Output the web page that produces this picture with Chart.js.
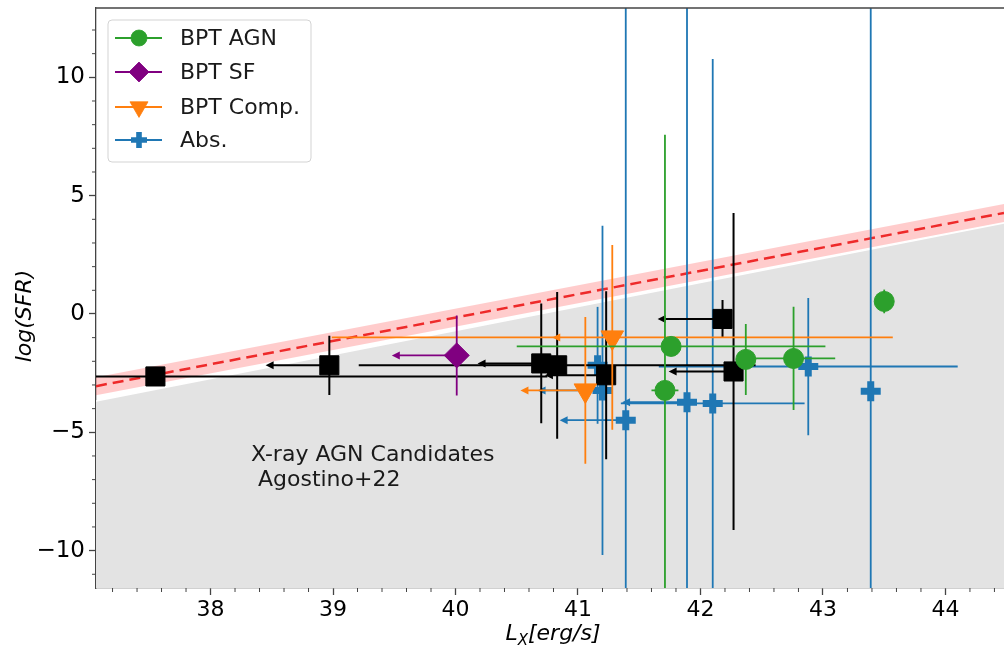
<!DOCTYPE html>
<html>
<head>
<meta charset="utf-8">
<script src="https://cdn.jsdelivr.net/npm/chart.js@4.4.0/dist/chart.umd.min.js"></script>
<style>
  html, body { margin: 0; padding: 0; background: #fff; }
  #wrap { width: 1004px; height: 652px; }
</style>
</head>
<body>
<div id="wrap"><canvas id="sfr-chart" width="1004" height="652"></canvas></div>
<script>
// axis limits and tick labels
var xMin = 37.065, xMax = 44.478;
var yMin = -11.58, yMax = 12.93;
var xTicks = [38, 39, 40, 41, 42, 43, 44];
var yTicks = [-10, -5, 0, 5, 10];

// BPT AGN (green circles)
var agnX    = [41.76, 41.71, 42.37, 42.76, 43.50];
var agnY    = [-1.37, -3.23, -1.92, -1.88, 0.53];
var agnXerr = [1.26, 0.11, 0.08, 0.34, 0];
var agnYerr = [0.3, 10.8, 1.5, 2.18, 0.5];

// BPT SF (purple diamond), arrow = upper limit on Lx
var sfX    = [40.01];
var sfY    = [-1.75];
var sfYerr = [1.69];
var sfXlim = [39.48];

// BPT Comp. (orange triangles)
var compX    = [41.28, 41.06];
var compY    = [-0.99, -3.23];
var compXerr = [2.29, 0];
var compYerr = [3.9, 3.1];
var compXlim = [40.79, 40.53];

// Abs. (blue plus)
var absX    = [41.16, 41.20, 41.39, 41.89, 42.10, 42.88, 43.39];
var absY    = [-2.17, -3.23, -4.49, -3.73, -3.78, -2.22, -3.27];
var absXerr = [0, 0, 0, 0, 0.75, 1.22, 0];
var absYerr = [2.47, 6.96, 20, 20, 14.56, 2.9, 20];
var absXlim = [null, 40.67, 40.85, 41.36, null, null, null];

// X-ray AGN candidates, Agostino+22 (black squares)
var xrayX    = [37.55, 38.97, 40.70, 40.83, 41.23, 42.18, 42.27];
var xrayY    = [-2.64, -2.17, -2.09, -2.17, -2.59, -0.21, -2.43];
var xrayXerr = [3.2, 0, 0, 1.62, 0, 0, 0];
var xrayYerr = [0, 1.25, 2.53, 3.1, 3.55, 0.8, 6.7];
var xrayXlim = [null, 38.45, 40.18, null, 40.73, 41.65, 41.74];

// relations across the plot (end points at xMin / xMax)
var relX      = [xMin, xMax];
var sfmsY     = [-3.05, 4.27];
var sfmsLow   = [-3.43, 3.89];
var sfmsHigh  = [-2.67, 4.65];
var agnZoneY  = [-3.68, 3.85];

var legendNames = ['BPT AGN', 'BPT SF', 'BPT Comp.', 'Abs.'];

var FONT = "'DejaVu Sans', 'Liberation Sans', sans-serif";

function points(xs, ys, xerr, yerr, xlim) {
    var out = [];
    for (var i = 0; i < xs.length; i++) {
        out.push({
            x: xs[i], y: ys[i],
            xerr: xerr ? xerr[i] : 0,
            yerr: yerr ? yerr[i] : 0,
            xlim: xlim ? xlim[i] : null
        });
    }
    return out;
}
function line(xs, ys) {
    return xs.map(function (v, i) { return { x: v, y: ys[i] }; });
}
function noPadding(s) {
    s.paddingTop = 0; s.paddingBottom = 0; s.paddingLeft = 0; s.paddingRight = 0;
}

var errorBars = {
    id: 'errorBars',
    beforeDatasetDraw: function (chart, args) {
        var ds = chart.data.datasets[args.index];
        if (!ds.errorColor) return;
        var xs = chart.scales.x, ys = chart.scales.y, ctx = chart.ctx, a = chart.chartArea;
        ctx.save();
        ctx.beginPath();
        ctx.rect(a.left, a.top, a.right - a.left, a.bottom - a.top);
        ctx.clip();
        ctx.strokeStyle = ds.errorColor;
        ctx.fillStyle = ds.errorColor;
        ctx.lineWidth = ds.errorWidth;
        ds.data.forEach(function (p) {
            var px = xs.getPixelForValue(p.x), py = ys.getPixelForValue(p.y);
            ctx.beginPath();
            if (p.yerr) {
                ctx.moveTo(px, ys.getPixelForValue(p.y + p.yerr));
                ctx.lineTo(px, ys.getPixelForValue(p.y - p.yerr));
            }
            if (p.xerr) {
                ctx.moveTo(xs.getPixelForValue(p.x - p.xerr), py);
                ctx.lineTo(xs.getPixelForValue(p.x + p.xerr), py);
            }
            if (p.xlim != null) {
                var ax = xs.getPixelForValue(p.xlim);
                ctx.moveTo(ax + 4, py);
                ctx.lineTo(px, py);
            }
            ctx.stroke();
            if (p.xlim != null) {
                var hx = xs.getPixelForValue(p.xlim);
                ctx.beginPath();
                ctx.moveTo(hx, py);
                ctx.lineTo(hx + 8, py - 4);
                ctx.lineTo(hx + 8, py + 4);
                ctx.closePath();
                ctx.fill();
            }
        });
        ctx.restore();
    }
};

var decorations = {
    id: 'decorations',
    afterDatasetsDraw: function (chart) {
        var ctx = chart.ctx, xs = chart.scales.x, ys = chart.scales.y, a = chart.chartArea;
        ctx.save();
        // top spine
        ctx.strokeStyle = '#444';
        ctx.lineWidth = 1.3;
        ctx.beginPath();
        ctx.moveTo(a.left, a.top);
        ctx.lineTo(a.right, a.top);
        ctx.stroke();
        // minor ticks
        ctx.lineWidth = 1;
        ctx.beginPath();
        for (var v = 37.2; v < xMax; v += 0.2) {
            var r = Math.round(v * 5) / 5;
            if (Math.abs(r - Math.round(r)) < 1e-6) continue;
            var px = xs.getPixelForValue(r);
            ctx.moveTo(px, a.bottom);
            ctx.lineTo(px, a.bottom + 4);
        }
        for (var w = -11; w <= 12; w++) {
            if (w % 5 === 0) continue;
            var py = ys.getPixelForValue(w);
            ctx.moveTo(a.left, py);
            ctx.lineTo(a.left - 4, py);
        }
        ctx.stroke();

        // annotation
        ctx.fillStyle = '#1a1a1a';
        ctx.font = '22px ' + FONT;
        ctx.textBaseline = 'alphabetic';
        ctx.textAlign = 'left';
        ctx.fillText('X-ray AGN Candidates', xs.getPixelForValue(38.33), ys.getPixelForValue(-6.22));
        ctx.fillText(' Agostino+22', xs.getPixelForValue(38.33), ys.getPixelForValue(-7.28));

        // axis titles
        ctx.fillStyle = '#000';
        ctx.font = 'italic 22px ' + FONT;
        ctx.save();
        ctx.translate(25, 316);
        ctx.rotate(-Math.PI / 2);
        ctx.textAlign = 'center';
        ctx.textBaseline = 'middle';
        ctx.fillText('log(SFR)', 0, 0);
        ctx.restore();

        var big = 'italic 22px ' + FONT, small = 'italic 15px ' + FONT;
        ctx.font = big;
        var wL = ctx.measureText('L').width, wR = ctx.measureText('[erg/s]').width;
        ctx.font = small;
        var wX = ctx.measureText('X').width;
        var x0 = 553 - (wL + wX + wR) / 2, base = 640;
        ctx.textAlign = 'left';
        ctx.textBaseline = 'alphabetic';
        ctx.font = big;
        ctx.fillText('L', x0, base);
        ctx.font = small;
        ctx.fillText('X', x0 + wL, base + 5);
        ctx.font = big;
        ctx.fillText('[erg/s]', x0 + wL + wX, base);
        ctx.restore();
    },
    afterDraw: function (chart) {
        var ctx = chart.ctx;
        ctx.save();
        // legend frame
        var bx = 108, by = 20, bw = 203, bh = 142, rr = 4;
        ctx.fillStyle = 'rgba(255,255,255,0.85)';
        ctx.strokeStyle = '#d3d3d3';
        ctx.lineWidth = 1;
        ctx.beginPath();
        ctx.moveTo(bx + rr, by);
        ctx.lineTo(bx + bw - rr, by);
        ctx.quadraticCurveTo(bx + bw, by, bx + bw, by + rr);
        ctx.lineTo(bx + bw, by + bh - rr);
        ctx.quadraticCurveTo(bx + bw, by + bh, bx + bw - rr, by + bh);
        ctx.lineTo(bx + rr, by + bh);
        ctx.quadraticCurveTo(bx, by + bh, bx, by + bh - rr);
        ctx.lineTo(bx, by + rr);
        ctx.quadraticCurveTo(bx, by, bx + rr, by);
        ctx.closePath();
        ctx.fill();
        ctx.stroke();

        var rows = [38, 72, 107, 140];
        ctx.font = '22px ' + FONT;
        ctx.textBaseline = 'middle';
        ctx.textAlign = 'left';
        chart.data.datasets.forEach(function (ds) {
            if (ds.legendRow == null) return;
            var y = rows[ds.legendRow];
            ctx.strokeStyle = ds.errorColor;
            ctx.lineWidth = 1.8;
            ctx.beginPath();
            ctx.moveTo(115, y);
            ctx.lineTo(162, y);
            ctx.stroke();
            ctx.fillStyle = ds.pointBackgroundColor;
            ctx.strokeStyle = ds.pointBorderColor;
            ctx.lineWidth = ds.pointBorderWidth * 0.8;
            Chart.helpers.drawPoint(ctx, {
                pointStyle: ds.pointStyle,
                rotation: ds.pointRotation || 0,
                radius: ds.pointRadius * 0.8,
                borderWidth: ds.pointBorderWidth * 0.8
            }, 139, y);
            ctx.fillStyle = '#1a1a1a';
            ctx.fillText(ds.label, 180, y + 1);
        });
        ctx.restore();
    }
};

var ctx = document.getElementById('sfr-chart').getContext('2d');

var data = {
    datasets: [
        {
            label: legendNames[0], legendRow: 0,
            data: points(agnX, agnY, agnXerr, agnYerr, null),
            errorColor: '#2ca02c', errorWidth: 1.8,
            pointStyle: 'circle', pointRadius: 10,
            pointBackgroundColor: '#2ca02c', pointBorderColor: '#2ca02c', pointBorderWidth: 1
        },
        {
            label: legendNames[1], legendRow: 1,
            data: points(sfX, sfY, null, sfYerr, sfXlim),
            errorColor: '#800080', errorWidth: 1.8,
            pointStyle: 'rectRot', pointRadius: 12.5,
            pointBackgroundColor: '#800080', pointBorderColor: '#800080', pointBorderWidth: 1
        },
        {
            label: legendNames[2], legendRow: 2,
            data: points(compX, compY, compXerr, compYerr, compXlim),
            errorColor: '#ff7f0e', errorWidth: 1.8,
            pointStyle: 'triangle', pointRotation: 180, pointRadius: 13,
            pointBackgroundColor: '#ff7f0e', pointBorderColor: '#ff7f0e', pointBorderWidth: 1
        },
        {
            label: 'X-ray AGN Candidates',
            data: points(xrayX, xrayY, xrayXerr, xrayYerr, xrayXlim),
            errorColor: '#000', errorWidth: 2,
            pointStyle: 'rect', pointRadius: 13.5,
            pointBackgroundColor: '#000', pointBorderColor: '#000', pointBorderWidth: 1
        },
        {
            label: legendNames[3], legendRow: 3,
            data: points(absX, absY, absXerr, absYerr, absXlim),
            errorColor: '#1f77b4', errorWidth: 1.8,
            pointStyle: 'cross', pointRadius: 10,
            pointBackgroundColor: '#1f77b4', pointBorderColor: '#1f77b4', pointBorderWidth: 7
        },
        {
            label: 'SFMS',
            data: line(relX, sfmsY),
            showLine: true, pointRadius: 0,
            borderColor: '#ee2a2a', borderWidth: 2.5, borderDash: [11, 6],
            fill: false
        },
        {
            label: 'SFMS high',
            data: line(relX, sfmsHigh),
            showLine: true, pointRadius: 0, borderWidth: 0,
            borderColor: 'rgba(0,0,0,0)', fill: false
        },
        {
            label: 'SFMS low',
            data: line(relX, sfmsLow),
            showLine: true, pointRadius: 0, borderWidth: 0,
            borderColor: 'rgba(0,0,0,0)',
            fill: 6, backgroundColor: 'rgba(255,0,0,0.2)'
        },
        {
            label: 'AGN zone',
            data: line(relX, agnZoneY),
            showLine: true, pointRadius: 0, borderWidth: 1.5,
            borderColor: '#ffffff',
            fill: 'start', backgroundColor: '#e3e3e3'
        }
    ]
};

var sfrChart = new Chart(ctx, {
    type: 'scatter',
    data: data,
    plugins: [errorBars, decorations],
    options: {
        responsive: false,
        animation: false,
        layout: { autoPadding: false, padding: { top: 8, left: 0, right: 0, bottom: 0 } },
        plugins: {
            legend: { display: false },
            tooltip: { enabled: false }
        },
        scales: {
            x: {
                type: 'linear', min: xMin, max: xMax,
                afterBuildTicks: function (s) { s.ticks = xTicks.map(function (v) { return { value: v }; }); },
                afterFit: function (s) { s.height = 64; noPadding(s); },
                grid: { drawOnChartArea: false, drawTicks: true, tickLength: 7, tickWidth: 1.3, tickColor: '#444' },
                border: { display: true, color: '#444', width: 1.3 },
                ticks: {
                    color: '#000', padding: 2, maxRotation: 0, autoSkip: false,
                    font: { family: FONT, size: 22 }
                }
            },
            y: {
                type: 'linear', min: yMin, max: yMax,
                afterBuildTicks: function (s) { s.ticks = yTicks.map(function (v) { return { value: v }; }); },
                afterFit: function (s) { s.width = 96; noPadding(s); },
                grid: { drawOnChartArea: false, drawTicks: true, tickLength: 7, tickWidth: 1.3, tickColor: '#444' },
                border: { display: true, color: '#444', width: 1.3 },
                ticks: {
                    color: '#000', padding: 4, autoSkip: false,
                    font: { family: FONT, size: 23 },
                    callback: function (v) { return v < 0 ? '\u2212' + Math.abs(v) : String(v); }
                }
            }
        }
    }
});
</script>
</body>
</html>
